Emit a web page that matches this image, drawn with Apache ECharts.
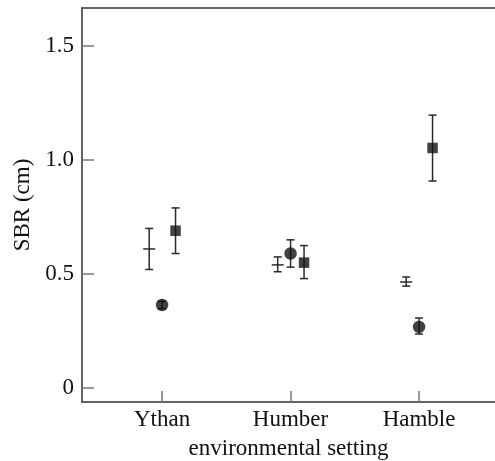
<!DOCTYPE html>
<html>
<head>
<meta charset="utf-8">
<title>SBR by setting</title>
<script src="https://cdn.jsdelivr.net/npm/echarts@6/dist/echarts.min.js"></script>
<style>html,body{margin:0;padding:0;background:#fff}</style>
</head>
<body>
<div id="main" style="width:495px;height:461px;"></div>
<script>
var sites = ['Ythan', 'Humber', 'Hamble'];
var sitePos = [1, 2, 3];
var yTicks = [0, 0.5, 1.0, 1.5];

// series without a marker (bar at mean)
var plainMean = [0.61, 0.54, 0.465];
var plainLow  = [0.52, 0.51, 0.447];
var plainHigh = [0.70, 0.575, 0.487];
// circles
var circleMean = [0.364, 0.59, 0.268];
var circleLow  = [0.348, 0.53, 0.237];
var circleHigh = [0.38, 0.65, 0.307];
// squares
var squareMean = [0.69, 0.55, 1.053];
var squareLow  = [0.59, 0.48, 0.908];
var squareHigh = [0.79, 0.625, 1.197];

var offs = [-0.1, 0, 0.105];
var font = 'Liberation Serif';

function rows(off, mean, lo, hi) {
  return sitePos.map(function (p, i) { return [p + off, mean[i], lo[i], hi[i]]; });
}

function errRender(withMean) {
  return function (params, api) {
    var x = api.value(0);
    var m = api.coord([x, api.value(1)]);
    var lo = api.coord([x, api.value(2)]);
    var hi = api.coord([x, api.value(3)]);
    var st = { stroke: '#2a2a2a', lineWidth: 1.5 };
    var cw = 4;
    var kids = [
      { type: 'line', shape: { x1: lo[0], y1: lo[1], x2: hi[0], y2: hi[1] }, style: st },
      { type: 'line', shape: { x1: lo[0] - cw, y1: lo[1], x2: lo[0] + cw, y2: lo[1] }, style: st },
      { type: 'line', shape: { x1: hi[0] - cw, y1: hi[1], x2: hi[0] + cw, y2: hi[1] }, style: st }
    ];
    if (withMean) {
      kids.push({ type: 'line', shape: { x1: m[0] - 6, y1: m[1], x2: m[0] + 6, y2: m[1] }, style: st });
    }
    return { type: 'group', children: kids };
  };
}

var chart = echarts.init(document.getElementById('main'));
chart.setOption({
  animation: false,
  grid: { left: 82, right: 0, top: 8, bottom: 59, outerBoundsMode: 'none' },
  xAxis: [{
    type: 'value', min: 0.377, max: 3.591,
    name: 'environmental setting', nameLocation: 'middle', nameGap: 35,
    nameTextStyle: { fontFamily: font, fontSize: 23, color: '#111' },
    axisLine: { onZero: false, lineStyle: { color: '#333', width: 1.5 } },
    axisTick: { show: true, inside: true, length: 11, customValues: sitePos, lineStyle: { color: '#777', width: 1.5 } },
    axisLabel: { customValues: sitePos, margin: 6, fontFamily: font, fontSize: 23, color: '#111',
      formatter: function (v) { return sites[Math.round(v) - 1]; } },
    splitLine: { show: false }
  }, {
    type: 'value', position: 'top', min: 0.377, max: 3.591,
    axisLine: { show: true, onZero: false, lineStyle: { color: '#333', width: 1.5 } },
    axisTick: { show: false }, axisLabel: { show: false }, splitLine: { show: false }
  }],
  yAxis: {
    type: 'value', min: -0.0614, max: 1.667,
    name: 'SBR (cm)', nameLocation: 'middle', nameGap: 43,
    nameTextStyle: { fontFamily: font, fontSize: 23, color: '#111' },
    axisLine: { show: true, onZero: false, lineStyle: { color: '#333', width: 1.5 } },
    axisTick: { show: true, inside: true, length: 12, customValues: yTicks, lineStyle: { color: '#777', width: 1.5 } },
    axisLabel: { customValues: yTicks, margin: 8, fontFamily: font, fontSize: 23, color: '#111',
      formatter: function (v) { return v === 0 ? '0' : v.toFixed(1); } },
    splitLine: { show: false }
  },
  series: [
    { type: 'custom', renderItem: errRender(true), data: rows(offs[0], plainMean, plainLow, plainHigh), z: 2 },
    { type: 'custom', renderItem: errRender(false), data: rows(offs[1], circleMean, circleLow, circleHigh), z: 2 },
    { type: 'custom', renderItem: errRender(false), data: rows(offs[2], squareMean, squareLow, squareHigh), z: 2 },
    { type: 'scatter', symbol: 'circle', symbolSize: 12.5, itemStyle: { color: '#111' }, z: 3,
      data: sitePos.map(function (p, i) { return [p + offs[1], circleMean[i]]; }) },
    { type: 'scatter', symbol: 'rect', symbolSize: 10.5, itemStyle: { color: '#111' }, z: 3,
      data: sitePos.map(function (p, i) { return [p + offs[2], squareMean[i]]; }) }
  ]
});
</script>
</body>
</html>
